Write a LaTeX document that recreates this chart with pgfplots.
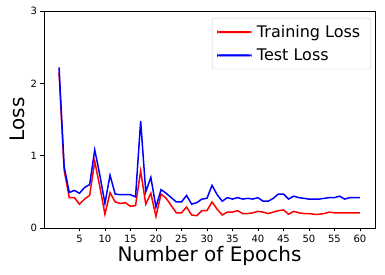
\documentclass[border=0pt]{standalone}
\usepackage{pgfplots}
\pgfplotsset{compat=1.18}
\usepackage{fontspec}
\setmainfont{DejaVu Sans}
\usetikzlibrary{calc}
\pgfplotstableread{
ep train test
1 2.15 2.22
2 0.80 0.85
3 0.42 0.49
4 0.42 0.52
5 0.33 0.48
6 0.40 0.56
7 0.45 0.60
8 0.92 1.08
9 0.57 0.73
10 0.19 0.34
11 0.49 0.73
12 0.36 0.47
13 0.34 0.46
14 0.35 0.46
15 0.30 0.46
16 0.31 0.43
17 0.79 1.48
18 0.33 0.50
19 0.48 0.70
20 0.16 0.29
21 0.47 0.53
22 0.41 0.48
23 0.31 0.42
24 0.21 0.36
25 0.21 0.36
26 0.29 0.45
27 0.18 0.33
28 0.17 0.35
29 0.24 0.40
30 0.24 0.41
31 0.36 0.59
32 0.26 0.46
33 0.18 0.37
34 0.22 0.42
35 0.22 0.40
36 0.24 0.42
37 0.20 0.40
38 0.20 0.41
39 0.21 0.40
40 0.23 0.42
41 0.22 0.37
42 0.20 0.37
43 0.22 0.41
44 0.24 0.47
45 0.25 0.47
46 0.19 0.40
47 0.23 0.44
48 0.21 0.42
49 0.20 0.41
50 0.20 0.40
51 0.19 0.40
52 0.19 0.40
53 0.20 0.41
54 0.22 0.42
55 0.21 0.42
56 0.21 0.44
57 0.21 0.40
58 0.21 0.42
59 0.21 0.42
60 0.21 0.42
}\loss
\begin{document}
\begin{tikzpicture}
\begin{axis}[name=ax,
  scale only axis, width=331pt, height=217pt,
  xmin=-1.95, xmax=62.95, ymin=0, ymax=3,
  xtick={5,10,...,60}, ytick={0,1,2,3},
  tick align=outside, tick pos=left,
  major tick length=3.5pt,
  tick style={black, line width=0.8pt},
  axis line style={line width=0.8pt},
  /pgf/number format/assume math mode=true,
  ticklabel style={font=\fontsize{10}{12}\selectfont},
  xlabel={Number of Epochs}, ylabel={Loss},
  xlabel style={font=\fontsize{20}{24}\selectfont, yshift=3pt},
  ylabel style={font=\fontsize{20}{24}\selectfont, yshift=-1pt},
  legend style={at={(1,1)}, xshift=-4pt, yshift=-7pt, anchor=north east,
    draw=black!20, rounded corners=2pt,
    font=\fontsize{16}{19}\selectfont, inner xsep=5pt, inner ysep=5pt, row sep=6pt,
    nodes={inner ysep=2pt, inner xsep=5.5pt}},
  legend cell align=left,
  legend image code/.code={\fill[#1] (0pt,-0.8pt) rectangle (34pt,0.8pt);},
]
\addplot[red, line width=1.5pt, forget plot] table[x=ep, y=train] {\loss};
\addplot[blue, line width=1.5pt, forget plot] table[x=ep, y=test] {\loss};
\addlegendimage{red, fill=red}
\addlegendentry{Training Loss}
\addlegendimage{blue, fill=blue}
\addlegendentry{Test Loss}
\end{axis}
\pgfresetboundingbox
\path ($(ax.south west)+(-44pt,-47pt)$) rectangle ($(ax.north east)+(10pt,11pt)$);
\end{tikzpicture}
\end{document}
